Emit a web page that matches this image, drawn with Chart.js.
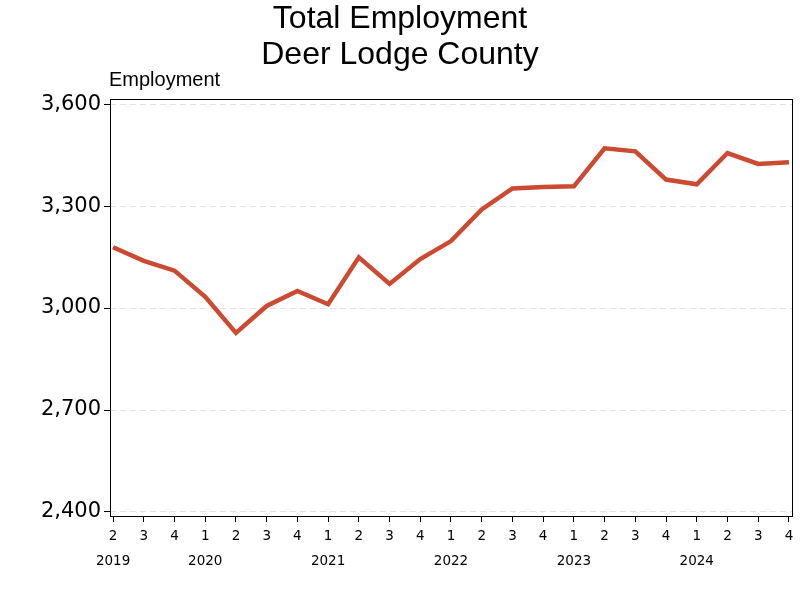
<!DOCTYPE html>
<html>
<head>
<meta charset="utf-8">
<script src="https://cdn.jsdelivr.net/npm/chart.js@4.4.0/dist/chart.umd.min.js"></script>
<style>
  html, body { margin: 0; padding: 0; background: #fff; }
  canvas { display: block; }
</style>
</head>
<body>
<canvas id="chart" width="800" height="600"></canvas>
<script>
// quarter labels along the x axis (2019 Q2 .. 2024 Q4)
const quarters = ["2", "3", "4", "1", "2", "3", "4", "1", "2", "3", "4", "1", "2", "3", "4", "1", "2", "3", "4", "1", "2", "3", "4"];
// year labels and the point index they sit under
const years = ["2019", "2020", "2021", "2022", "2023", "2024"];
const yearPos = [0, 3, 7, 11, 15, 19];
// total employment per quarter
const employment = [3179, 3139, 3110, 3033, 2927, 3006, 3050, 3011, 3149, 3071, 3144, 3197, 3290, 3352, 3356, 3358, 3470, 3461, 3378, 3364, 3456, 3424, 3429];
const yTicks = [2400, 2700, 3000, 3300, 3600];

const boxPlugin = {
  id: "plotBox",
  afterDraw: (chart) => {
    const { ctx, chartArea } = chart;
    ctx.save();
    ctx.strokeStyle = "#000";
    ctx.lineWidth = 1;
    ctx.strokeRect(Math.round(chartArea.left) + 0.5, Math.round(chartArea.top) + 0.5,
      Math.round(chartArea.right - chartArea.left), Math.round(chartArea.bottom - chartArea.top));
    // axis label above the plot
    ctx.fillStyle = "#000";
    ctx.font = "20px 'Liberation Sans', Arial, sans-serif";
    ctx.textAlign = "left";
    ctx.textBaseline = "alphabetic";
    ctx.fillText("Employment", chartArea.left - 1, chartArea.top - 13);
    ctx.restore();
  }
};

function xLabel(i) {
  const k = yearPos.indexOf(i);
  return k >= 0 ? [quarters[i], years[k]] : quarters[i];
}

new Chart(document.getElementById("chart"), {
  type: "line",
  data: {
    datasets: [{
      data: employment.map((v, i) => ({ x: i, y: v })),
      borderColor: "#cc4a32",
      borderWidth: 4.5,
      pointRadius: 0,
      tension: 0,
      fill: false,
    }],
  },
  options: {
    responsive: false,
    animation: false,
    layout: { padding: { left: 0, right: 0, top: 0, bottom: 24 } },
    scales: {
      x: {
        type: "linear",
        min: -0.1,
        max: 22.1,
        afterBuildTicks: (s) => { s.ticks = quarters.map((q, i) => ({ value: i })); },
        ticks: {
          autoSkip: false,
          maxRotation: 0,
          padding: 2,
          color: "#000",
          font: { family: "'DejaVu Sans'", size: 13.5, lineHeight: 1.85 },
          callback: (v, i) => xLabel(i),
        },
        grid: { drawOnChartArea: false, tickLength: 6, tickColor: "#000" },
        border: { display: false },
      },
      y: {
        min: 2388,
        max: 3615,
        afterFit: (s) => { s.width = 110; },
        afterBuildTicks: (s) => { s.ticks = yTicks.map((v) => ({ value: v })); },
        ticks: {
          padding: 3,
          color: "#000",
          font: { family: "'DejaVu Sans'", size: 21 },
          callback: (v) => v.toLocaleString("en-US"),
        },
        grid: { color: "#e2e2e2", tickColor: "#000", tickLength: 6, tickBorderDash: [] },
        border: { display: false, dash: [6, 4] },
      },
      yr: {
        position: "right",
        afterFit: (s) => { s.width = 8; },
        ticks: { display: false },
        grid: { display: false },
        border: { display: false },
      },
    },
    plugins: {
      legend: { display: false },
      tooltip: { enabled: false },
      title: {
        display: true,
        text: ["Total Employment", "Deer Lodge County"],
        color: "#000",
        font: { family: "'Liberation Sans', Arial, sans-serif", size: 32, weight: "normal", lineHeight: 1.125 },
        padding: { top: 1, bottom: 26 },
      },
    },
  },
  plugins: [boxPlugin],
});
</script>
</body>
</html>
